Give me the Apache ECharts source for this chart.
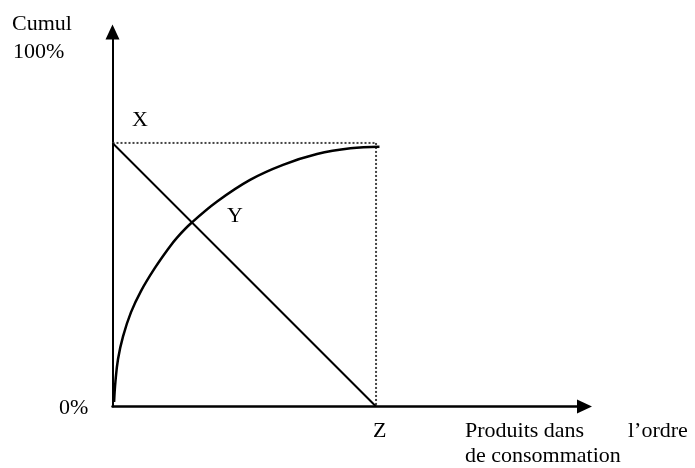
<!DOCTYPE html>
<html>
<head>
<meta charset="utf-8">
<script src="https://cdn.jsdelivr.net/npm/echarts@6/dist/echarts.min.js"></script>
<style>
  html, body { margin: 0; padding: 0; background: #fff; }
  #chart { width: 695px; height: 468px; }
</style>
</head>
<body>
<div id="chart"></div>
<script>
// cumulative curve (x = products in order of consumption, y = cumul %)
const curveX = [0.6, 1.1, 2.1, 4.0, 7.0, 10.8, 16.1, 21.1, 24.5, 30.1, 39.7, 52.2, 64.7, 77.6, 90.3, 101.3];
const curveY = [1.7, 9.3, 18.0, 26.6, 35.7, 43.8, 52.6, 59.8, 64.1, 69.8, 77.8, 86.0, 91.7, 95.8, 98.0, 98.6];
// straight diagonal X -> Z and the dotted guides
const diagonal = [[0, 100], [100, 0]];
const guideTop = [[0, 100], [100, 100]];
const guideRight = [[100, 100], [100, 0]];

const curve = curveX.map((x, i) => [x, curveY[i]]);

const serif = '"Liberation Serif", "DejaVu Serif", serif';
const txt = (text, x, y) => ({
    type: 'text',
    x: x,
    y: y,
    style: {
        text: text,
        font: '22px ' + serif,
        fill: '#000',
        align: 'left',
        verticalAlign: 'middle'
    }
});

let myChart = echarts.init(document.getElementById('chart'));
let option = {
    animation: false,
    grid: { left: 112.5, top: 32, right: 110.5, bottom: 61.5 },
    xAxis: {
        type: 'value',
        min: 0,
        max: 179.1,
        axisLine: {
            show: true,
            symbol: ['none', 'triangle'],
            symbolSize: [14, 15],
            lineStyle: { color: '#000', width: 2.5 }
        },
        axisTick: { show: false },
        axisLabel: { show: false },
        splitLine: { show: false }
    },
    yAxis: {
        type: 'value',
        min: 0,
        max: 142.1,
        axisLine: {
            show: true,
            symbol: ['none', 'triangle'],
            symbolSize: [14, 15],
            lineStyle: { color: '#000', width: 2 }
        },
        axisTick: { show: false },
        axisLabel: { show: false },
        splitLine: { show: false }
    },
    series: [
        {
            type: 'line',
            data: guideTop,
            showSymbol: false,
            lineStyle: { color: '#444', width: 2, type: [2, 2] }
        },
        {
            type: 'line',
            data: guideRight,
            showSymbol: false,
            lineStyle: { color: '#444', width: 2, type: [2, 2] }
        },
        {
            type: 'line',
            data: diagonal,
            showSymbol: false,
            lineStyle: { color: '#000', width: 2 }
        },
        {
            type: 'line',
            data: curve,
            smooth: 0.4,
            showSymbol: false,
            lineStyle: { color: '#000', width: 2.5 }
        }
    ],
    graphic: [
        txt('Cumul', 12, 24),
        txt('100%', 13, 52),
        txt('0%', 59, 408),
        txt('X', 132, 120),
        txt('Y', 227, 216),
        txt('Z', 373, 431),
        txt('Produits dans', 465, 431),
        txt('l\u2019ordre', 628, 431),
        txt('de consommation', 465, 456)
    ]
};
option && myChart.setOption(option);
</script>
</body>
</html>
